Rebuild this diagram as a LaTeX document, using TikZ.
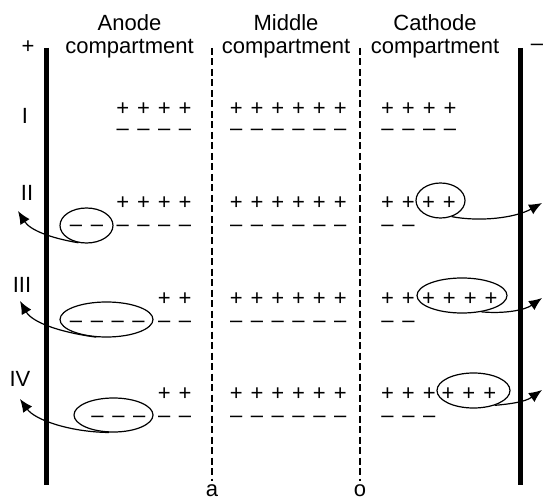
\documentclass[tikz,border=0pt]{standalone}
\usepackage{fontspec}
\setmainfont{Liberation Sans}
\usetikzlibrary{arrows.meta,shapes.geometric}
\newcommand\sgnrow[2]{\foreach\k in{1,...,#2}{\makebox[20.8pt]{#1}}}
\tikzset{
  lbl/.style={font=\fontsize{22}{24}\selectfont, inner sep=0pt},
  hdr/.style={lbl, anchor=base},
  sg/.style={lbl, anchor=base west},
  electrode/.style={line width=5pt},
  membrane/.style={line width=1.3pt, dash pattern=on 7pt off 3.5pt},
  ring/.style={draw, ellipse, line width=1.2pt, inner sep=0pt},
  flow/.style={line width=1.2pt, -{Latex[length=13pt,width=11pt]}},
}
\begin{document}
\begin{tikzpicture}[x=1pt,y=-1pt]
\useasboundingbox (0,0) rectangle (544,500);
% electrodes and membranes
\draw[electrode] (46,48) -- (46,485);
\draw[electrode] (520,48) -- (520,485);
\draw[membrane] (212,48) -- (212,481);
\draw[membrane] (360,48) -- (360,481);
% headers
\node[hdr] (h1a) at (129.5,31) {Anode};
\node[hdr] (h1b) at (129.5,54) {compartment};
\node[hdr] (h2a) at (286,31) {Middle};
\node[hdr] (h2b) at (286,54) {compartment};
\node[hdr] (h3a) at (435,31) {Cathode};
\node[hdr] (h3b) at (435,54) {compartment};
\node[hdr] (plus) at (28,54) {+};
\node[hdr] (minus) at (537,51) {–};
\node[hdr] (lo) at (212,496.5) {a};
\node[hdr] (lc) at (360,496.5) {o};
% row labels
\node[lbl] (r1) at (25,116) {I};
\node[lbl] (r2) at (27,193) {II};
\node[lbl] (r3) at (22,285) {III};
\node[lbl] (r4) at (20,379) {IV};
% row I
\node[sg] (p1a) at (112.1,116) {\sgnrow{+}{4}};
\node[sg] (m1a) at (112.1,136) {\sgnrow{–}{4}};
\node[sg] (p1m) at (225.6,116) {\sgnrow{+}{6}};
\node[sg] (m1m) at (225.6,136) {\sgnrow{–}{6}};
\node[sg] (p1c) at (377,116) {\sgnrow{+}{4}};
\node[sg] (m1c) at (377,136) {\sgnrow{–}{4}};
% row II
\node[sg] (p2a) at (112.1,210) {\sgnrow{+}{4}};
\node[sg] (m2x) at (65.5,231.5) {\sgnrow{–}{2}};
\node[sg] (m2a) at (112.1,231.5) {\sgnrow{–}{4}};
\node[sg] (p2m) at (225.6,210) {\sgnrow{+}{6}};
\node[sg] (m2m) at (225.6,231.5) {\sgnrow{–}{6}};
\node[sg] (p2c) at (377,210) {\sgnrow{+}{2}};
\node[sg] (p2x) at (418,210) {\sgnrow{+}{2}};
\node[sg] (m2c) at (377,231.5) {\sgnrow{–}{2}};
% row III
\node[sg] (p3a) at (153.7,305) {\sgnrow{+}{2}};
\node[sg] (m3x) at (65.5,327.5) {\sgnrow{–}{4}};
\node[sg] (m3a) at (153.7,327.5) {\sgnrow{–}{2}};
\node[sg] (p3m) at (225.6,305) {\sgnrow{+}{6}};
\node[sg] (m3m) at (225.6,327.5) {\sgnrow{–}{6}};
\node[sg] (p3c) at (377,305) {\sgnrow{+}{2}};
\node[sg] (p3x) at (418,305) {\sgnrow{+}{4}};
\node[sg] (m3c) at (377,327.5) {\sgnrow{–}{2}};
% row IV
\node[sg] (p4a) at (153.7,400) {\sgnrow{+}{2}};
\node[sg] (m4x) at (87,422.5) {\sgnrow{–}{3}};
\node[sg] (m4a) at (153.7,422.5) {\sgnrow{–}{2}};
\node[sg] (p4m) at (225.6,400) {\sgnrow{+}{6}};
\node[sg] (m4m) at (225.6,422.5) {\sgnrow{–}{6}};
\node[sg] (p4c) at (377,400) {\sgnrow{+}{3}};
\node[sg] (p4x) at (437.5,400) {\sgnrow{+}{3}};
\node[sg] (m4c) at (377,422.5) {\sgnrow{–}{3}};
% rings
\node[ring, minimum width=53pt, minimum height=35pt] (e2a) at (86.5,225.5) {};
\node[ring, minimum width=93pt, minimum height=35pt] (e3a) at (106.5,319.5) {};
\node[ring, minimum width=79pt, minimum height=34pt] (e4a) at (113.5,415) {};
\node[ring, minimum width=49pt, minimum height=35pt] (e2c) at (440.5,200.5) {};
\node[ring, minimum width=90pt, minimum height=35pt] (e3c) at (462,295.5) {};
\node[ring, minimum width=73pt, minimum height=35pt] (e4c) at (473.5,390.5) {};
% arrow ends
\coordinate (t2a) at (18,211);
\coordinate (t3a) at (20,301);
\coordinate (t4a) at (20,399);
\coordinate (t2c) at (542,203);
\coordinate (t3c) at (542,298);
\coordinate (t4c) at (542,390);
% arrows
\draw[flow] (e2a.245) .. controls (50,238) and (30,230) .. (t2a);
\draw[flow] (e3a.240) .. controls (58,332) and (32,322) .. (t3a);
\draw[flow] (e4a.255) .. controls (70,432) and (35,420) .. (t4a);
\draw[flow] (e2c.-55) .. controls (480,222) and (515,218) .. (t2c);
\draw[flow] (e3c.-40) .. controls (505,314) and (525,310) .. (t3c);
\draw[flow] (e4c.-35) .. controls (510,404) and (525,402) .. (t4c);
\end{tikzpicture}
\end{document}
